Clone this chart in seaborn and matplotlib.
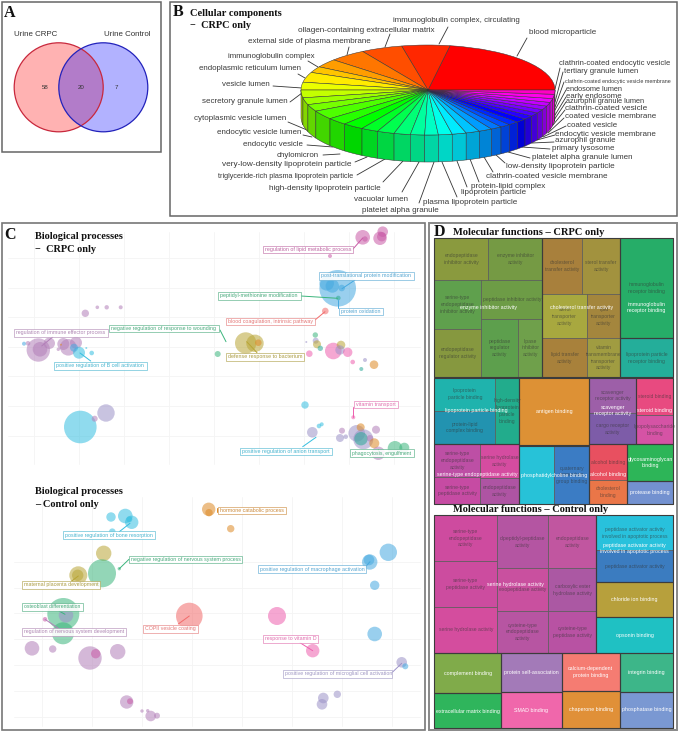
import numpy as np
import pandas as pd
import matplotlib
matplotlib.use('Agg')
import matplotlib.pyplot as plt
from matplotlib.patches import Circle, Rectangle
import seaborn as sns

# ---- panel A
venn_names = ['Urine CRPC', 'Urine Control']
venn_counts = [58, 20, 7]

# ---- panel B, slice sizes in degrees, counter-clockwise from east
pie_names = ['blood microparticle', 'immunoglobulin complex, circulating', 'ollagen-containing extracellular matrix',
             'external side of plasma membrane', 'immunoglobulin complex', 'endoplasmic reticulum lumen',
             'vesicle lumen', 'secretory granule lumen', 'cytoplasmic vesicle lumen', 'endocytic vesicle lumen',
             'endocytic vesicle', 'chylomicron', 'very-low-density lipoprotein particle',
             'triglyceride-rich plasma lipoprotein particle', 'high-density lipoprotein particle', 'vacuolar lumen',
             'platelet alpha granule', 'plasma lipoprotein particle', 'lipoprotein particle', 'protein-lipid complex',
             'clathrin-coated vesicle membrane', 'low-density lipoprotein particle', 'platelet alpha granule lumen',
             'primary lysosome', 'azurophil granule', 'endocytic vesicle membrane', 'coated vesicle',
             'coated vesicle membrane', 'clathrin-coated vesicle', 'azurophil granule lumen', 'early endosome',
             'endosome lumen', 'clathrin-coated endocytic vesicle membrane', 'tertiary granule lumen',
             'clathrin-coated endocytic vesicle']
pie_shares = [80, 22, 19, 17, 11, 8, 13, 10, 10, 9, 9, 11.5, 9.5, 9.7, 7.9, 7.9, 7.5, 6.5, 6.2, 6.3, 6.5, 6.3, 6.2,
              5.1, 4.7, 4.9, 5.1, 4.9, 4.7, 4.8, 4.9, 4.9, 5, 5.5, 5.5]

# ---- panel C, bubbles: x, y, radius, group
top_x = [38.3, 40, 49.3, 24, 28, 63.3, 68.3, 76, 79, 74, 91.7, 86.3, 58.3, 61, 85.3, 97.3, 106.7, 120.7, 80.3, 106, 94.7,
         362.7, 365, 382.7, 380, 381.7, 330, 337.7, 326.7, 332.3, 341.7, 338.3, 325.3, 245.7, 255, 258.3, 217.7,
         315.3, 315.7, 317, 320.3, 309.3, 306.3, 333.3, 341, 340, 347.7, 352.7, 365, 361.3, 374,
         305, 312.3, 319, 321.7, 353.3, 342, 340, 345.7, 356.7, 360.7, 376, 363.3, 361, 370, 374.3, 378.3, 395, 404.3]
top_y = [350, 349.3, 343.3, 343.7, 343.3, 344, 347.3, 342.7, 352.7, 347.7, 353, 348, 349.3, 344.7, 313.3, 307.3, 307.3, 307.3, 427, 413, 418.7,
         237.3, 239, 231.7, 238.3, 236.7, 256, 288.3, 283.3, 286, 288, 298, 311, 343, 343.3, 342.7, 354,
         335, 340.7, 344.3, 348.3, 353.7, 342, 351, 345, 350, 352.3, 362, 360, 369, 364.7,
         405, 432.3, 426, 424.3, 417.3, 430.7, 438, 436.7, 433.3, 427.3, 429.7, 439.3, 438.7, 438.3, 443.3, 453.3, 448.3, 447.7]
top_r = [11.7, 7.3, 5.7, 2, 2.3, 6, 8.3, 6, 6, 4, 2.3, 1, 1.7, 1, 3.7, 1.8, 2.2, 2, 16.3, 8.7, 3,
         7.3, 2.7, 5.3, 6.7, 4.7, 2, 18.3, 7.3, 6.7, 3.3, 2.3, 3.3, 10.7, 8.7, 3.3, 3,
         2.7, 3, 4, 2.7, 3.3, 1, 8.3, 4.3, 4.7, 4.7, 2.3, 2, 2, 4.3,
         3.7, 5.3, 2.3, 2, 2, 3, 4, 2.3, 8.3, 4, 4, 10, 6.7, 3.3, 5, 6.7, 7.3, 5]
top_group = ['purple', 'purple', 'purple', 'blue', 'purple', 'purple', 'purple', 'purple', 'cyan', 'blue', 'cyan', 'cyan', 'purple', 'orange', 'purple', 'purple', 'purple', 'purple', 'cyan', 'lavender', 'purple',
             'orchid', 'orchid', 'orchid', 'orchid', 'orchid', 'orchid', 'blue', 'blue', 'blue', 'blue', 'teal', 'red', 'olive', 'olive', 'orange', 'green',
             'green', 'lavender', 'olive', 'teal', 'pink', 'lavender', 'pink', 'olive', 'lavender', 'pink', 'pink', 'lavender', 'teal', 'orange',
             'cyan', 'lavender', 'cyan', 'cyan', 'pink', 'purple', 'lavender', 'lavender', 'lavender', 'orange', 'purple', 'lavender', 'teal', 'purple', 'orange', 'purple', 'green', 'green']

low_x = [111, 125.3, 131.7, 112.3, 129.3, 103.7, 78.3, 77.7, 102, 119.3, 63.3, 63, 66, 45, 32, 52.7, 90, 95.7, 117.7,
         126.7, 130, 142, 147.7, 150.7, 157, 189.3, 208.7, 209, 230.7,
         369.7, 369, 388.3, 374.7, 374.7, 277, 312.7, 401.7, 405.3, 323.3, 322, 337.3]
low_y = [517, 516, 522.3, 531.7, 519.3, 553.3, 575.3, 575.3, 573.3, 568.7, 614, 633.3, 615.3, 619.3, 648.3, 649, 658, 653.7, 651.7,
         702, 701.3, 711, 710.7, 716, 715.7, 616, 509.3, 512.7, 528.7,
         562, 560, 552.3, 585.3, 634, 616, 650.7, 662.3, 666.3, 698, 704.3, 694.3]
low_r = [4.7, 7.3, 6.7, 3.3, 3, 7.7, 9, 5.7, 14, 1.7, 16, 11, 7.3, 2.3, 7.3, 3.7, 11.7, 4.7, 7.7,
         6.7, 3, 1.7, 1.7, 5.3, 3, 13.3, 6.7, 3.7, 3.7,
         7.7, 5.3, 8.7, 4.7, 7.3, 9, 6.7, 5.3, 3, 5.3, 5.3, 3.7]
low_group = ['cyan', 'cyan', 'cyan', 'cyan', 'cyan', 'olive', 'olive', 'olive', 'green', 'green', 'green', 'green', 'lavender', 'orchid', 'purple', 'purple', 'purple', 'orchid', 'purple',
             'purple', 'orchid', 'purple', 'purple', 'purple', 'purple', 'red', 'orange', 'orange', 'orange',
             'blue', 'blue', 'blue', 'blue', 'blue', 'pink', 'pink', 'lavender', 'blue', 'lavender', 'lavender', 'lavender']

bubble_colors = {'purple': '#b27fb8', 'blue': '#45a9e0', 'lavender': '#9c92c8', 'pink': '#ee5fae', 'orchid': '#c95aa6',
                 'olive': '#b8a535', 'orange': '#dd8a25', 'green': '#3bb57c', 'teal': '#2ca898', 'cyan': '#35bfe0',
                 'red': '#f26a6a'}
label_colors = {k: sns.desaturate(v, 0.8) for k, v in bubble_colors.items()}

c_labels = ['regulation of immune effector process', 'negative regulation of response to wounding',
            'positive regulation of B cell activation', 'regulation of lipid metabolic process',
            'post-translational protein modification', 'peptidyl-methionine modification', 'protein oxidation',
            'blood coagulation, intrinsic pathway', 'defense response to bacterium', 'vitamin transport',
            'positive regulation of anion transport', 'phagocytosis, engulfment',
            'positive regulation of bone resorption', 'negative regulation of nervous system process',
            'maternal placenta development', 'osteoblast differentiation', 'regulation of nervous system development',
            'COPII vesicle coating', 'hormone catabolic process', 'positive regulation of macrophage activation',
            'response to vitamin D', 'positive regulation of microglial cell activation']
c_label_groups = ['purple', 'green', 'cyan', 'orchid', 'blue', 'green', 'blue', 'red', 'olive', 'pink', 'cyan', 'green',
                  'cyan', 'green', 'olive', 'green', 'purple', 'red', 'orange', 'blue', 'pink', 'lavender']

# ---- panel D, cell edges as read in the three crops (x across 0..750, y in crop rows)
mf1_names = ['endopeptidase\ninhibitor activity', 'enzyme inhibitor\nactivity', 'serine-type\nendopeptidase\ninhibitor activity',
             'peptidase inhibitor activity', 'endopeptidase\nregulator activity', 'peptidase\nregulator\nactivity',
             'lipase\ninhibitor\nactivity', 'cholesterol\ntransfer activity', 'sterol transfer\nactivity',
             'sterol\ntransporter\nactivity', 'lipid\ntransporter\nactivity', 'lipid transfer\nactivity',
             'vitamin\ntransmembrane\ntransporter\nactivity', 'immunoglobulin\nreceptor binding',
             'lipoprotein particle\nreceptor binding']
mf1_left = [19, 181, 19, 160, 19, 160, 270, 343, 461, 343, 478, 343, 478, 577, 577]
mf1_right = [181, 343, 160, 343, 160, 270, 343, 461, 577, 478, 577, 478, 577, 735, 735]
mf1_top = [55, 55, 181, 181, 326, 296, 296, 55, 55, 223, 223, 355, 355, 55, 355]
mf1_bottom = [181, 181, 326, 296, 471, 471, 471, 223, 223, 355, 355, 471, 471, 355, 471]
mf1_colors = ['#8a9a3e', '#759a44', '#5fa04d', '#6d9c46', '#86983f', '#5d9f4d', '#6fa04b', '#a8803c', '#a2923e',
              '#a8a83f', '#a4863d', '#a8813b', '#a09c41', '#26ad68', '#24ae9a']

mf2_names = ['lipoprotein\nparticle binding', 'protein-lipid\ncomplex binding', 'high-density\nlipoprotein\nparticle\nbinding',
             '', 'scavenger\nreceptor activity', 'cargo receptor\nactivity', 'steroid binding',
             'lipopolysaccharide\nbinding', 'serine-type\nendopeptidase\nactivity', 'serine hydrolase\nactivity',
             'serine-type\npeptidase activity', 'endopeptidase\nactivity', '', 'quaternary\nammonium\ngroup binding',
             'alcohol binding', 'cholesterol\nbinding', '', '']
mf2_left = [19, 19, 202, 274, 483, 483, 625, 625, 19, 157, 19, 157, 274, 379, 483, 483, 598, 598]
mf2_right = [202, 202, 274, 483, 625, 625, 735, 735, 157, 274, 157, 274, 379, 483, 598, 598, 735, 735]
mf2_top = [8, 107, 8, 8, 8, 115, 8, 120, 208, 208, 305, 310, 212, 212, 208, 315, 208, 317]
mf2_bottom = [107, 208, 208, 210, 115, 208, 120, 208, 305, 310, 388, 388, 388, 388, 315, 388, 317, 388]
mf2_colors = ['#1fb3ad', '#2293b0', '#22ac8c', '#dd9135', '#9d5fa8', '#7d5ca8', '#e84a80', '#d553a5', '#bd4fa5',
              '#d54ca0', '#c64ba3', '#ae54a3', '#27c2d8', '#3b7cc4', '#e85060', '#ea7648', '#2db558', '#7391d0']

mf3_names = ['serine-type\nendopeptidase\nactivity', 'serine-type\npeptidase activity', 'serine hydrolase activity',
             'dipeptidyl-peptidase\nactivity', 'endopeptidase\nactivity', 'exopeptidase activity',
             'carboxylic ester\nhydrolase activity', 'cysteine-type\nendopeptidase\nactivity',
             'cysteine-type\npeptidase activity', 'peptidase activator activity\ninvolved in apoptotic process',
             'peptidase activator activity']
mf3_left = [19, 19, 19, 208, 361, 208, 361, 208, 361, 505, 505, 505, 505, 19, 219, 401, 575, 19, 219, 401, 575]
mf3_right = [208, 208, 208, 361, 505, 361, 505, 361, 505, 735, 735, 735, 735, 219, 401, 575, 735, 219, 401, 575, 735]
mf3_top = [31, 168, 307, 31, 31, 190, 190, 319, 319, 31, 136, 231, 337, 443, 443, 443, 443, 565, 561, 558, 560]
mf3_bottom = [168, 307, 443, 190, 190, 319, 319, 443, 443, 136, 231, 337, 443, 565, 561, 558, 560, 670, 670, 670, 670]
mf3_colors = ['#ce4b9f', '#cc4c9f', '#d44d9e', '#b455a2', '#c156a0', '#c9509f', '#ab58a3', '#b755a2', '#b852a3',
              '#28c1dc', '#3b7cc0', '#b7a03c', '#1fc1c3', '#80ab4a', '#a37ab8', '#f57c72', '#3db689', '#2fb55c',
              '#f067ab', '#e09038', '#7a98d2']

mf1_group_labels = ['enzyme inhibitor activity', 'cholesterol transfer activity', 'immunoglobulin\nreceptor binding']
mf2_group_labels = ['lipoprotein particle binding', 'antigen binding', 'scavenger\nreceptor activity', 'steroid binding',
                    'serine-type endopeptidase activity', 'phosphatidylcholine binding', 'alcohol binding',
                    'glycosaminoglycan\nbinding', 'protease binding']
mf3_group_labels = ['serine hydrolase activity', 'peptidase activator activity\ninvolved in apoptotic process',
                    'chloride ion binding', 'opsonin binding', 'complement binding', 'protein self-association',
                    'calcium-dependent\nprotein binding', 'integrin binding', 'extracellular matrix binding',
                    'SMAD binding', 'chaperone binding', 'phosphatase binding']

# ---- layout (figure pixels)
mf1_group_pos = [(180, 264), (460, 263), (656, 263)]
mf2_group_pos = [(146, 107), (378, 108), (555, 107), (680, 107), (147, 298), (379, 300), (541, 298), (666, 262), (666, 352)]
mf3_group_pos = [(263, 238), (620, 131), (620, 284), (620, 391), (119, 505), (310, 503), (488, 501), (655, 502),
                 (119, 618), (310, 616), (488, 614), (655, 615)]
# group outlines: left, top, right, bottom
mf1_frames = [(19, 55, 343, 471), (343, 55, 577, 471), (577, 55, 735, 355), (577, 355, 735, 471)]
mf2_frames = [(19, 8, 274, 208), (274, 8, 483, 210), (483, 8, 625, 208), (625, 8, 735, 208), (19, 208, 274, 388),
              (274, 212, 483, 388), (483, 208, 598, 388), (598, 208, 735, 317), (598, 317, 735, 388)]
mf3_frames = [(19, 31, 505, 443), (505, 31, 735, 231), (505, 231, 735, 337), (505, 337, 735, 443), (19, 443, 219, 565),
              (219, 443, 401, 561), (401, 443, 575, 558), (575, 443, 735, 560), (19, 565, 219, 670), (219, 561, 401, 670),
              (401, 558, 575, 670), (575, 560, 735, 670)]

# label start x, end x, y centre
pie_label_box = [(529, 597, 32), (393, 523, 20), (298, 437, 30), (248, 373, 41.7), (228, 317, 56.7), (199, 304, 69),
                 (222, 271, 85), (202, 289, 101.7), (194, 288, 118), (217, 303, 132.7), (243, 304, 144.7),
                 (277, 320, 155.3), (222, 353, 164), (218, 357, 176.7), (269, 383, 188.7), (354, 409, 199.7),
                 (362, 440, 210), (423, 519, 202), (461, 527, 193), (471, 547, 187), (486, 609, 177), (506, 617, 166.3),
                 (532, 634, 157.7), (552, 616, 149), (555, 617, 141), (555, 658, 134.7), (567, 618, 125.7),
                 (565, 657, 116.7), (565, 648, 109), (566, 647, 101.7), (566, 622, 96), (566, 624, 89.3),
                 (565, 672, 81), (564, 639, 71.3), (559, 671, 63.3)]
pie_leaders = [(517, 56, 527, 38), (439, 44, 448, 27), (385, 47, 390, 34), (347, 55, 349, 47), (318, 67, 308, 61),
               (305, 78, 298, 74), (302, 88, 273, 86), (302, 93, 290, 102), (307, 130, 288, 122), (312, 137, 303, 135),
               (333, 147, 307, 145), (340, 154, 323, 155), (367, 157, 355, 162), (385, 159, 357, 175), (403, 161, 383, 182),
               (419, 162, 402, 192), (434, 162, 419, 203), (442, 162, 457, 197), (457, 161, 467, 187), (470, 159, 479, 182),
               (484, 157, 493, 172), (495, 154, 505, 163), (508, 152, 530, 158), (522, 147, 550, 149), (532, 143, 554, 142),
               (537, 140, 555, 135), (543, 137, 566, 126), (548, 133, 564, 118), (553, 125, 565, 110), (554, 120, 566, 102),
               (555, 115, 566, 97), (555, 110, 566, 90), (555, 107, 564, 82), (555, 102, 563, 72), (555, 89, 560, 68)]

c_label_box = [(14, 108, 332.7), (109, 219, 328.3), (54, 147, 366), (262.7, 353, 249.7), (319, 414, 275.7), (218.3, 301, 296),
               (339, 382.7, 311.3), (226, 315, 321.3), (225.7, 304.3, 356.7), (354, 398, 404.3), (240, 331.7, 451.3), (350, 414, 453),
               (63.3, 155, 535), (129, 242.3, 559.3), (22.3, 100, 584.7), (22.3, 83.3, 607), (22.3, 126, 631.7), (143.3, 198.3, 628.7),
               (217.7, 286, 510.3), (257.7, 365.7, 569), (262.7, 318.3, 638.7), (282.7, 392.3, 673.7)]
c_leaders = [(52.7, 337, 41.7, 346), (220, 330, 226, 341.7), (90.7, 361, 80, 353), (353, 249, 362.7, 238), (355, 280, 342, 288.7),
             (301, 296, 337.7, 298.3), (338.3, 308, 338.3, 300), (315, 320, 325, 311.7), (257, 352.7, 246.7, 341.7), (353.3, 407, 353.3, 417),
             (302.7, 446.7, 316, 437.3), (378, 449, 378, 453), (119.3, 531.7, 130, 523.3), (129, 559.3, 119.3, 568.7), (71.7, 581, 78.3, 576),
             (59, 611, 65, 614.3), (58.3, 628.3, 45, 619.3), (178.3, 624, 189.3, 616), (216.7, 508, 216.7, 512), (365.7, 566.7, 370, 561.7),
             (300, 642.7, 312.7, 650.7), (392.3, 672.3, 401.7, 663.3)]

sns.set_theme(style='white')
plt.rcParams['font.family'] = ['Liberation Sans', 'DejaVu Sans']
SERIF = 'Liberation Serif'

fig = plt.figure(figsize=(6.78, 7.32), dpi=100)
ax = fig.add_axes([0, 0, 1, 1])
ax.set_axis_off()
renderer = fig.canvas.get_renderer()


def fit_text(x0, x1, y, s, **kw):
    # scale the font so the text spans the same width as in the reference
    t = ax.text(x0, y, s, ha='left', va='center', fontsize=5, **kw)
    t.set_fontsize(5 * (x1 - x0) / t.get_window_extent(renderer).width)
    return t


def frame(x0, y0, x1, y1, color, lw):
    ax.add_patch(Rectangle((x0, y0), x1 - x0, y1 - y0, fill=False, ec=color, lw=lw, zorder=6))


def heading(x0, x1, y, s):
    fit_text(x0, x1, y, s, family=SERIF, weight='bold', color='#111111', zorder=8)


def letter(x, y, s):
    ax.text(x, y, s, family=SERIF, weight='bold', fontsize=11.5, ha='center', va='center', color='#111111', zorder=8)


# ---- A: venn
frame(1.5, 1.5, 161, 152, '#666666', 1.1)
letter(10, 13, 'A')
ax.add_patch(Circle((58.7, 87.3), 44.5, fc=(1, 0, 0, 0.3), ec='none'))
ax.add_patch(Circle((103.3, 87.3), 44.5, fc=(0, 0, 1, 0.3), ec='none'))
ax.add_patch(Circle((58.7, 87.3), 44.5, fill=False, ec='#c8283c', lw=0.9))
ax.add_patch(Circle((103.3, 87.3), 44.5, fill=False, ec='#2222bb', lw=0.9))
for s, x in zip(venn_names, [35.7, 127]):
    ax.text(x, 34.5, s, fontsize=5.7, ha='center', va='center', color='#333333')
for n, x in zip(venn_counts, [45, 81, 116.5]):
    ax.text(x, 87.5, str(n), fontsize=4.4, ha='center', va='center', color='#333333')

# ---- B: pie with an extruded wall
frame(170, 1.5, 677, 216, '#666666', 1.1)
letter(177.7, 12.3, 'B')
heading(190, 283, 13, 'Cellular components')
heading(190, 252, 26, '−  CRPC only')

pie_ax = fig.add_axes([301 / 678, 1 - 162 / 732, 254 / 678, 117 / 732], zorder=3)
pie_ax.patch.set_alpha(0)
slice_colors = sns.hls_palette(39, h=0, l=0.5, s=1)[:len(pie_shares)]
pie_ax.pie(pie_shares, colors=slice_colors, startangle=0, radius=1,
           wedgeprops={'edgecolor': '#333333', 'linewidth': 0.35, 'clip_on': False})
pie_ax.set_aspect('auto')
pie_ax.set_xlim(-1, 1)
pie_ax.set_ylim(-1.6, 1)
pie_ax.set_axis_off()
edges = np.concatenate([[0], np.cumsum(pie_shares)])
for i, c in enumerate(slice_colors):
    a0, a1 = max(edges[i], 180), min(edges[i + 1], 360)
    if a1 <= a0:
        continue
    t = np.radians(np.linspace(a0, a1, 12))
    wx = np.r_[np.cos(t), np.cos(t)[::-1]]
    wy = np.r_[np.sin(t), np.sin(t)[::-1] - 0.6]
    pie_ax.fill(wx, wy, color=sns.set_hls_values(c, l=0.42), ec='#333333', lw=0.35, clip_on=False, zorder=0)

for s, (x0, x1, y) in zip(pie_names, pie_label_box):
    fit_text(x0, x1, y, s, color='#3a3a3a', zorder=8)
for lx0, ly0, lx1, ly1 in pie_leaders:
    ax.plot([lx0, lx1], [ly0, ly1], color='#333333', lw=0.6, zorder=7)

# ---- C: bubble plots
frame(1.5, 223, 425, 730, '#777777', 1.2)
letter(10, 235, 'C')
heading(35.3, 124.5, 236.7, 'Biological processes')
heading(35.3, 97, 250, '−  CRPC only')
heading(35.3, 124.5, 491.7, 'Biological processes')
heading(35.3, 100, 504.3, '– Control only')

for gx in [34.3, 79.3, 124.3, 169.3, 214.3, 259.3, 304.3, 349.3, 394.3]:
    ax.plot([gx, gx], [232, 464], color='#f4f4f4', lw=0.6, zorder=1)
for gy in [258, 288, 317, 347, 376, 406, 436]:
    ax.plot([8, 420], [gy, gy], color='#f4f4f4', lw=0.6, zorder=1)
for gx in [42, 92, 142, 192, 242, 292, 342, 392]:
    ax.plot([gx, gx], [497, 726], color='#f4f4f4', lw=0.6, zorder=1)
for gy in [561.7, 587.5, 613.3, 639, 665, 691, 716.7]:
    ax.plot([14, 420], [gy, gy], color='#f4f4f4', lw=0.6, zorder=1)


def bubbles(x, y, r, group):
    df = pd.DataFrame({'x': x, 'y': y, 'r': r, 'group': group})
    df['area'] = df['r'] ** 2
    pt = (2 * df['r'] * 0.72) ** 2
    sns.scatterplot(data=df, x='x', y='y', hue='group', palette=bubble_colors, size='area',
                    sizes=(pt.min(), pt.max()), alpha=0.55, linewidth=0, legend=False, ax=ax, zorder=2)


bubbles(top_x, top_y, top_r, top_group)
bubbles(low_x, low_y, low_r, low_group)

for s, g, (x0, x1, y), (lx0, ly0, lx1, ly1) in zip(c_labels, c_label_groups, c_label_box, c_leaders):
    ax.plot([lx0, lx1], [ly0, ly1], color=bubble_colors[g], lw=0.7, zorder=3)
    ax.add_patch(Rectangle((x0, y - 3.8), x1 - x0, 7.6, fc='white', ec=label_colors[g], lw=0.45, alpha=0.9, zorder=4))
    fit_text(x0 + 2, x1 - 2, y, s, color=label_colors[g], zorder=5)

# ---- D: treemaps
frame(428.5, 223, 677, 730, '#888888', 1.4)
letter(439.7, 231.7, 'D')
heading(453, 606.5, 232.3, 'Molecular functions – CRPC only')
heading(453, 610.7, 509.7, 'Molecular functions – Control only')


def treemap(y_origin, names, left, right, top, bottom, colors, frames, group_labels, group_pos):
    left, right = 428 + np.array(left) / 3, 428 + np.array(right) / 3
    top, bottom = y_origin + np.array(top) / 3, y_origin + np.array(bottom) / 3
    ax.bar(left, bottom - top, width=right - left, bottom=top, align='edge', color=colors,
           edgecolor='#5a5a5a', linewidth=0.5, zorder=2)
    for i, s in enumerate(names):
        ax.text((left[i] + right[i]) / 2, (top[i] + bottom[i]) / 2, s, fontsize=3.6, ha='center', va='center',
                linespacing=1.45, color='#333333', alpha=0.6, zorder=3)
    for x0, y0, x1, y1 in frames:
        ax.add_patch(Rectangle((428 + x0 / 3, y_origin + y0 / 3), (x1 - x0) / 3, (y1 - y0) / 3, fill=False,
                               ec='#3c3c3c', lw=0.8, zorder=4))
    for s, (gx, gy) in zip(group_labels, group_pos):
        ax.text(428 + gx / 3, y_origin + gy / 3, s, fontsize=3.8, ha='center', va='center', linespacing=1.4,
                color='white', zorder=5)


treemap(220, mf1_names, mf1_left, mf1_right, mf1_top, mf1_bottom, mf1_colors, mf1_frames, mf1_group_labels, mf1_group_pos)
treemap(375, mf2_names, mf2_left, mf2_right, mf2_top, mf2_bottom, mf2_colors, mf2_frames, mf2_group_labels, mf2_group_pos)
treemap(505, mf3_names, mf3_left, mf3_right, mf3_top, mf3_bottom, mf3_colors, mf3_frames, mf3_group_labels, mf3_group_pos)

ax.set_xlim(0, 678)
ax.set_ylim(732, 0)
ax.set_xlabel('')
ax.set_ylabel('')
fig.savefig('out.png', dpi=100)
